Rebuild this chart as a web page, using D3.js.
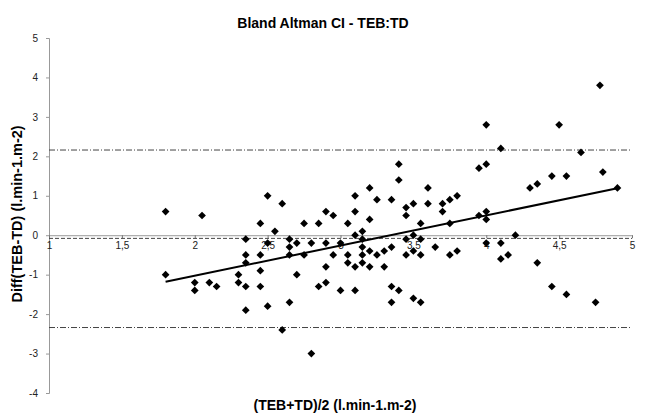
<!DOCTYPE html>
<meta charset="utf-8">
<title>Bland Altman CI - TEB:TD</title>
<script src="https://d3js.org/d3.v7.min.js"></script>
<style>
  body { margin: 0; background: #fff; }
  text { font-family: "Liberation Sans", Arial, sans-serif; }
</style>
<body>
<svg width="645" height="414"></svg>
<script>

  // mean of the two methods, (TEB+TD)/2
  var meanVals = [
    1.8, 2.05, 2.45, 2.5, 2.55, 2.6, 2.75, 2.85, 2.9, 2.95,
    3.05, 3.1, 3.1, 3.1, 3.15, 3.2, 3.2, 3.25, 3.35, 3.4,
    3.4, 3.45, 3.45, 3.5, 3.5, 3.55, 3.6, 3.6, 3.7, 3.7,
    3.75, 3.8, 3.75, 3.95, 4.0, 3.95, 4.0, 4.0, 4.1, 4.0,
    4.5, 4.78, 4.3, 4.35, 4.45, 4.55, 4.65, 4.8, 4.9, 4.2,
    2.35, 2.35, 2.35, 2.45, 2.5, 2.45, 2.3, 1.8, 2.65, 2.65,
    2.65, 2.7, 2.75, 2.8, 2.9, 2.9, 2.7, 2.95, 3.0, 3.05,
    3.05, 3.1, 3.15, 3.15, 3.15, 3.15, 3.2, 3.2, 3.25, 3.3,
    3.3, 3.35, 3.45, 3.45, 3.5, 3.55, 3.55, 3.65, 3.75, 3.8,
    4.0, 4.1, 4.1, 4.15, 4.35,
    2.0, 2.0, 2.1, 2.15, 2.3, 2.35, 2.35, 2.45, 2.5, 2.6,
    2.65, 2.8, 2.85, 2.9, 3.0, 3.1, 3.35, 3.35, 3.4, 3.5,
    3.55, 4.45, 4.55, 4.75
  ];

  // difference TEB-TD
  var diffVals = [
    0.6, 0.5, 0.3, 1.0, 0.1, 0.8, 0.3, 0.3, 0.6, 0.5,
    0.3, 1.0, 0.6, 0.0, 0.1, 1.2, 0.4, 0.9, 0.9, 1.8,
    1.4, 0.7, 0.5, 0.8, 0.0, 0.3, 1.2, 0.8, 0.8, 0.6,
    0.9, 1.0, 0.3, 1.7, 1.8, 0.5, 0.6, 0.4, 2.2, 2.8,
    2.8, 3.8, 1.2, 1.3, 1.5, 1.5, 2.1, 1.6, 1.2, 0.0,
    -0.1, -0.5, -0.7, -0.5, -0.2, -0.9, -1.0, -1.0, -0.1, -0.3,
    -0.5, -0.2, -0.5, -0.2, -0.2, -0.8, -1.0, -0.5, -0.2, -0.5,
    -0.7, -0.8, -0.1, -0.3, -0.5, -0.7, -0.4, -0.8, -0.5, -0.4,
    -0.8, -0.3, -0.1, -0.5, -0.4, -0.1, -0.5, -0.3, -0.5, -0.4,
    -0.2, -0.2, -0.6, -0.5, -0.7,
    -1.2, -1.4, -1.2, -1.3, -1.2, -1.3, -1.9, -1.3, -1.8, -2.4,
    -1.7, -3.0, -1.3, -1.2, -1.4, -1.4, -1.3, -1.7, -1.4, -1.6,
    -1.7, -1.3, -1.5, -1.7
  ];

  var meanDiff = -0.08;     // mean difference
  var upperLoA = 2.16;      // mean + 1.96 SD
  var lowerLoA = -2.34;     // mean - 1.96 SD

  // trend line
  var fitSlope = 0.765;
  var fitIntercept = -2.557;
  var fitRange = [1.8, 4.9];

  var xTicks = [1, 1.5, 2, 2.5, 3, 3.5, 4, 4.5, 5];
  var yTicks = [-4, -3, -2, -1, 0, 1, 2, 3, 4, 5];

  var svg = d3.select("svg");

  var x = d3.scaleLinear().domain([1, 5]).range([49, 632]);
  var y = d3.scaleLinear().domain([-4, 5]).range([393, 38]);

  var commaFmt = function(d) { return String(d).replace(".", ","); };

  // title
  svg.append("text")
      .attr("x", 323)
      .attr("y", 28)
      .attr("text-anchor", "middle")
      .style("font-size", "14px")
      .style("font-weight", "bold")
      .text("Bland Altman CI - TEB:TD");

  // y axis
  var yAxis = svg.append("g")
      .attr("transform", "translate(" + x(1) + ",0)")
      .call(d3.axisLeft(y).tickValues(yTicks).tickSize(3).tickPadding(8).tickFormat(commaFmt));
  yAxis.select(".domain").attr("stroke", "#999");
  yAxis.selectAll(".tick line").attr("stroke", "#999");
  yAxis.selectAll("text").style("font-size", "10px").attr("fill", "#222");

  // x axis crossing at 0
  var xAxis = svg.append("g")
      .attr("transform", "translate(0," + y(0) + ")")
      .call(d3.axisBottom(x).tickValues(xTicks).tickSize(3).tickPadding(4).tickSizeOuter(0).tickFormat(commaFmt));
  xAxis.select(".domain").attr("stroke", "#999");
  xAxis.selectAll(".tick line").attr("stroke", "#777");
  xAxis.selectAll("text").style("font-size", "10px").attr("fill", "#222");

  // limits of agreement and mean difference
  var refLines = [
    {v: upperLoA, dash: "6,2,1,2"},
    {v: meanDiff, dash: "4,2"},
    {v: lowerLoA, dash: "6,2,1,2"}
  ];
  svg.selectAll(".ref")
    .data(refLines)
    .enter().append("line")
      .attr("class", "ref")
      .attr("x1", x(1))
      .attr("x2", x(5))
      .attr("y1", function(d) { return y(d.v); })
      .attr("y2", function(d) { return y(d.v); })
      .attr("stroke", "#444")
      .attr("stroke-width", 1)
      .attr("stroke-dasharray", function(d) { return d.dash; });

  // points
  var points = meanVals.map(function(m, i) { return {m: m, d: diffVals[i]}; });
  svg.selectAll(".pt")
    .data(points)
    .enter().append("path")
      .attr("class", "pt")
      .attr("d", d3.symbol().type(d3.symbolDiamond2).size(38))
      .attr("transform", function(d) { return "translate(" + x(d.m) + "," + y(d.d) + ")"; })
      .attr("fill", "#000");

  // trend line
  svg.append("line")
      .attr("x1", x(fitRange[0]))
      .attr("y1", y(fitIntercept + fitSlope * fitRange[0]))
      .attr("x2", x(fitRange[1]))
      .attr("y2", y(fitIntercept + fitSlope * fitRange[1]))
      .attr("stroke", "#000")
      .attr("stroke-width", 2);

  // axis titles
  svg.append("text")
      .attr("x", 335)
      .attr("y", 410)
      .attr("text-anchor", "middle")
      .style("font-size", "14px")
      .style("font-weight", "bold")
      .text("(TEB+TD)/2 (l.min-1.m-2)");

  svg.append("text")
      .attr("transform", "translate(22,214) rotate(-90)")
      .attr("text-anchor", "middle")
      .style("font-size", "14.5px")
      .style("font-weight", "bold")
      .text("Diff(TEB-TD) (l.min-1.m-2)");

</script>
</body>
